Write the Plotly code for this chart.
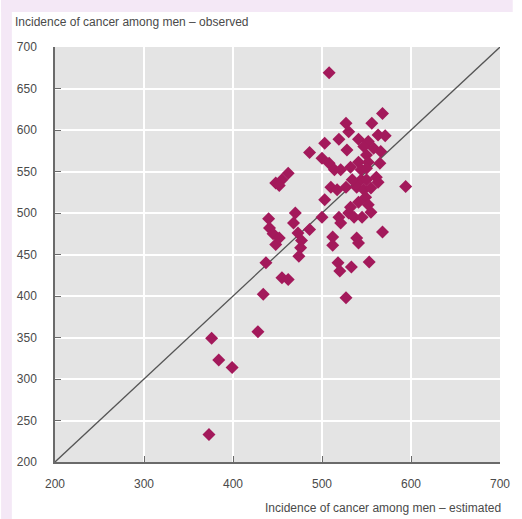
import plotly.graph_objects as go

# Estimated (x) vs observed (y) incidence of cancer among men
estimated = [373, 376, 384, 399, 428, 434, 437,
             440, 441, 445, 448, 452, 448, 455, 462, 452,
             455, 462, 470, 468, 473, 477, 476, 474,
             486, 486, 500, 503, 503, 500, 508, 508,
             514, 521, 510, 517, 527, 512, 512,
             519, 521, 530, 532, 527, 519, 530, 528,
             518, 520, 527, 533, 536, 545, 539, 541, 553,
             568, 556, 541, 552, 563, 571, 547, 558, 566, 550,
             541, 552, 544, 550, 594, 544, 550, 561, 563, 539,
             547, 555, 549, 541, 552, 555, 568, 532, 534, 565]
observed = [233, 349, 323, 314, 357, 402, 440,
            493, 482, 475, 462, 470, 536, 540, 548, 533,
            422, 420, 500, 488, 476, 467, 458, 448,
            573, 480, 495, 516, 584, 566, 560, 669,
            552, 552, 531, 528, 531, 471, 461,
            495, 488, 500, 507, 608, 589, 598, 576,
            440, 430, 398, 435, 495, 495, 470, 464, 441,
            620, 608, 589, 586, 594, 593, 580, 578, 574, 570,
            561, 561, 552, 554, 532, 540, 540, 543, 537, 531,
            528, 530, 519, 513, 510, 501, 477, 555, 540, 560]

diag = [200, 700]
x_ticks = [200, 300, 400, 500, 600, 700]
y_ticks = [200, 250, 300, 350, 400, 450, 500, 550, 600, 650, 700]

y_title = "Incidence of cancer among men – observed"
x_title = "Incidence of cancer among men – estimated"

FONT = "Liberation Sans"
TXT = "#4a4a4a"
PINK = "#f4e8f6"

fig = go.Figure()
fig.add_trace(go.Scatter(x=diag, y=diag, mode="lines",
                         line=dict(color="#555555", width=1.3),
                         hoverinfo="skip", showlegend=False))
fig.add_trace(go.Scatter(x=estimated, y=observed, mode="markers",
                         marker=dict(symbol="diamond", size=10, color="#a3195b",
                                     line=dict(width=0)),
                         showlegend=False))

L, R, T, B = 55, 13, 47, 57
W, H = 522, 519
pw, ph = W - L - R, H - T - B

fig.update_layout(
    width=W, height=H,
    margin=dict(l=L, r=R, t=T, b=B),
    paper_bgcolor="white",
    plot_bgcolor="#e4e4e4",
    font=dict(family=FONT, size=12, color=TXT),
    xaxis=dict(range=[200, 700], tickvals=x_ticks, showgrid=True,
               gridcolor="white", gridwidth=1.5, zeroline=False,
               showline=True, linecolor="#6a6a6a", linewidth=1.5,
               ticks="inside", ticklen=6, tickcolor="#6a6a6a",
               ticklabelstandoff=10, tickfont=dict(size=12, color=TXT)),
    yaxis=dict(range=[200, 700], tickvals=y_ticks, showgrid=True,
               gridcolor="white", gridwidth=1.5, zeroline=False,
               showline=True, linecolor="#6a6a6a", linewidth=1.5,
               ticks="inside", ticklen=6, tickcolor="#6a6a6a",
               ticklabelstandoff=14, tickfont=dict(size=12, color=TXT)),
    shapes=[
        dict(type="rect", xref="paper", yref="paper", layer="below",
             x0=-L / pw, x1=(11 - L) / pw, y0=-B / ph, y1=(ph + T) / ph,
             fillcolor=PINK, line=dict(width=0)),
        dict(type="rect", xref="paper", yref="paper", layer="below",
             x0=-L / pw, x1=(W - L) / pw, y0=(ph + T - 12) / ph, y1=(ph + T) / ph,
             fillcolor=PINK, line=dict(width=0)),
    ],
    annotations=[
        dict(text=y_title, xref="paper", yref="paper",
             x=(12 - L) / pw, y=(ph + T - 22) / ph, xanchor="left", yanchor="middle",
             showarrow=False, font=dict(size=12, color=TXT)),
        dict(text=x_title, xref="paper", yref="paper",
             x=(512 - L) / pw, y=-(508 - (T + ph)) / ph, xanchor="right", yanchor="middle",
             showarrow=False, font=dict(size=12, color=TXT)),
    ],
)

fig.write_html("out.html", config={"displayModeBar": False},
               post_script="document.body.style.margin='0';document.body.style.overflow='hidden';")
